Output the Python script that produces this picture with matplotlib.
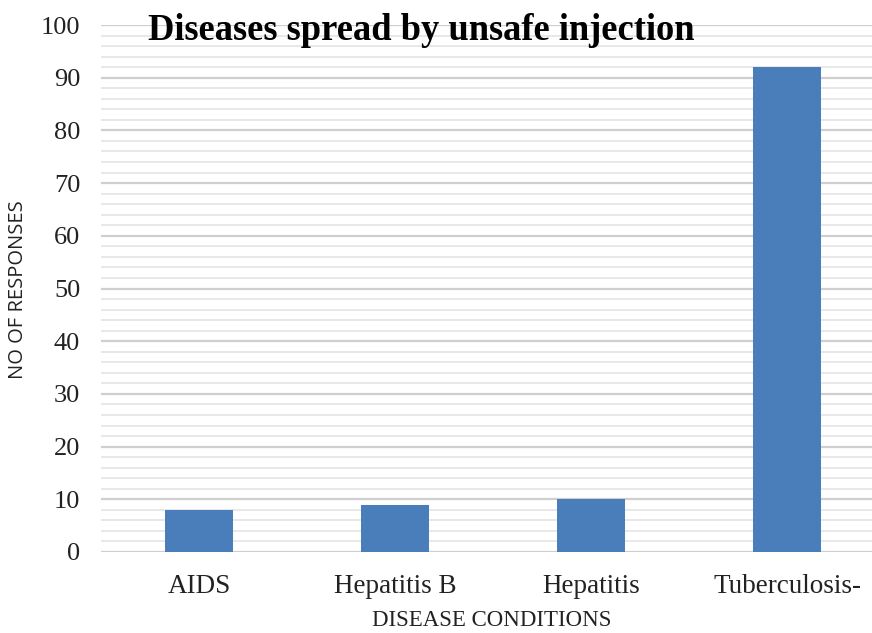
import matplotlib
matplotlib.use("Agg")
import matplotlib.pyplot as plt
from matplotlib.ticker import MultipleLocator

categories = ["AIDS", "Hepatitis B", "Hepatitis", "Tuberculosis-"]
responses = [8, 9, 10, 92]

W, H, DPI = 872, 633, 100
fig = plt.figure(figsize=(W / DPI, H / DPI), dpi=DPI)
fig.patch.set_facecolor("white")

# axes box in pixel units (left, bottom, width, height)
left, bottom, right, top = 101, 81, 885, 608
ax = fig.add_axes([left / W, bottom / H, (right - left) / W, (top - bottom) / H])

x = range(len(categories))
ax.bar(x, responses, width=0.35, color="#4a7ebb", zorder=3)

ax.set_xlim(-0.5, len(categories) - 0.5)
ax.set_ylim(0, 100)
ax.yaxis.set_major_locator(MultipleLocator(10))
ax.yaxis.set_minor_locator(MultipleLocator(2))
ax.grid(which="major", axis="y", color="#cfcfcf", linewidth=1.6, zorder=0)
ax.grid(which="minor", axis="y", color="#e4e4e4", linewidth=1.2, zorder=0)

for s in ax.spines.values():
    s.set_visible(False)
ax.tick_params(axis="both", which="both", length=0)
ax.tick_params(axis="y", pad=15)
ax.tick_params(axis="x", pad=16)

serif = ["Liberation Serif", "DejaVu Serif"]
ax.set_xticks(list(x))
ax.set_xticklabels(categories, fontfamily=serif, fontsize=19.5, color="#222222")
for lbl in ax.get_yticklabels():
    lbl.set_fontfamily(serif)
    lbl.set_fontsize(19)
    lbl.set_color("#222222")

fig.text(492 / W, (H - 621) / H, "DISEASE CONDITIONS", ha="center", va="center",
         fontfamily=serif, fontsize=16.5, color="#222222")
fig.text(18 / W, (H - 290) / H, "NO OF RESPONSES", rotation=90, ha="center", va="center",
         fontfamily="Open Sans", fontsize=14.5, color="#222222")

fig.text(148 / W, (H - 30) / H, "Diseases spread by unsafe injection", ha="left",
         va="center", fontfamily=serif, fontweight="bold", fontsize=26.3, color="black")

fig.savefig("out.png", dpi=DPI, facecolor="white")
